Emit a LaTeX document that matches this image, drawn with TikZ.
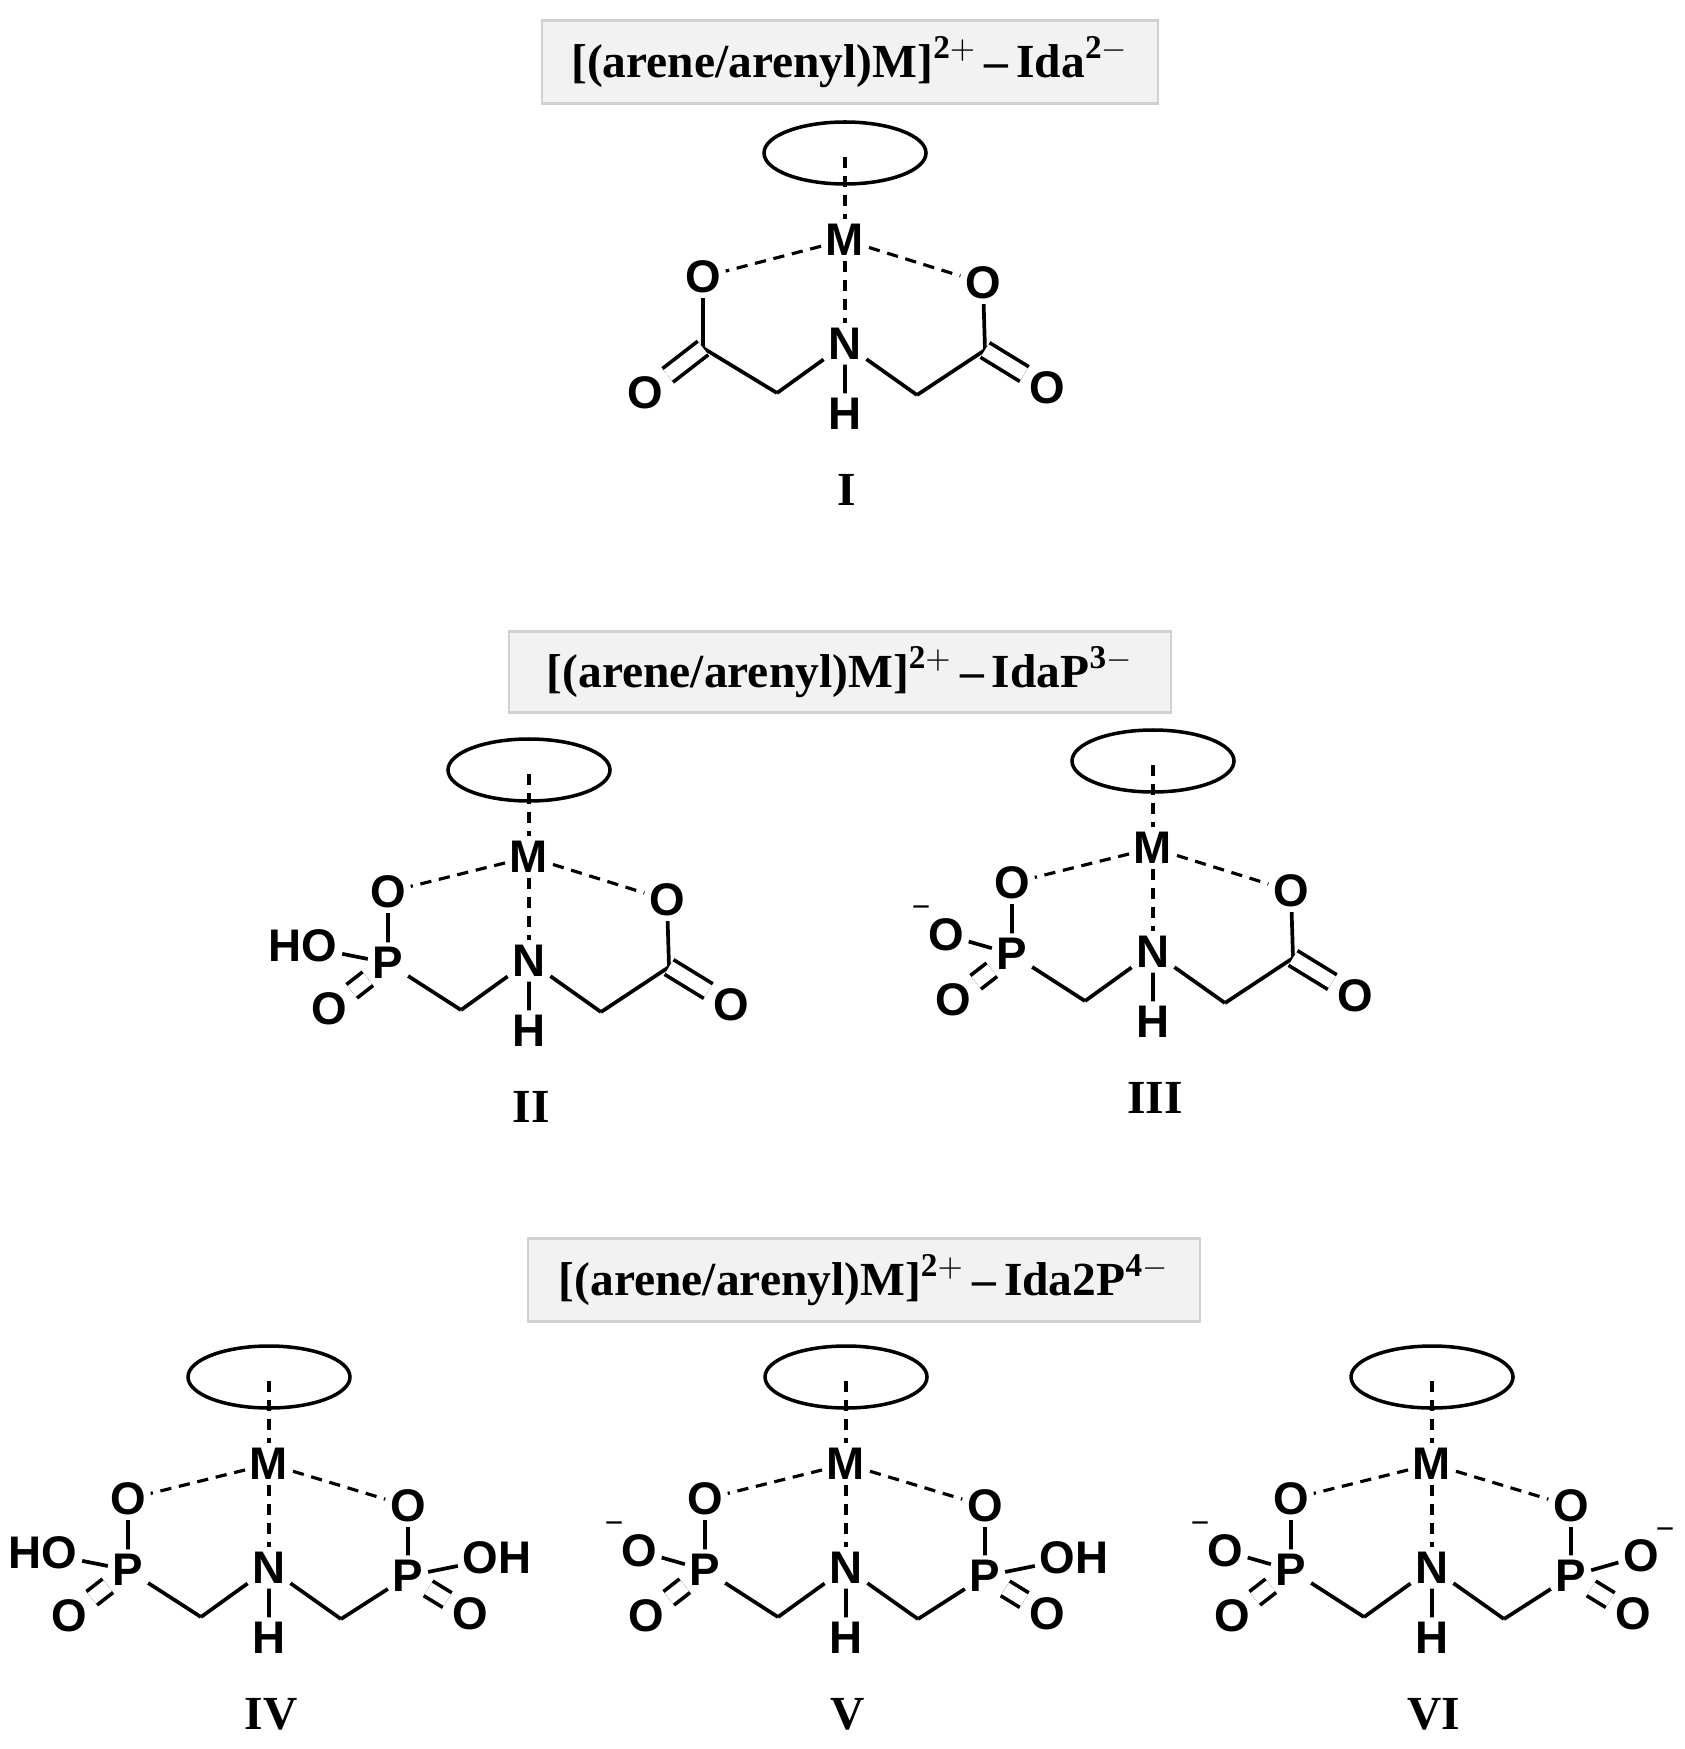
\documentclass[tikz,border=0pt]{standalone}
\usepackage{fontspec}
\setmainfont{Liberation Serif}
\newfontfamily\atomfont{Liberation Sans}
\begin{document}
\begin{tikzpicture}[x=0.01cm,y=-0.01cm,
  atom/.style={font=\atomfont\bfseries\fontsize{13}{14}\selectfont,inner sep=1.2pt},
  bond/.style={line width=1.05pt},
  dbl/.style={line width=1.05pt,double distance=3.8pt},
  coordb/.style={line width=0.9pt,dash pattern=on 3.2pt off 2.2pt},
  ring/.style={line width=1pt},
  title/.style={draw=black!18,fill=black!5,line width=0.6pt,font=\bfseries\fontsize{13.5}{15}\selectfont,inner sep=0pt},
  roman/.style={font=\bfseries\fontsize{13.5}{14}\selectfont}]
\useasboundingbox (0,0) rectangle (1684,1749);
\newcommand\core[4]{%
 \begin{scope}[shift={(#2,#3)}]
 \node[atom] (#1M) at (0,0) {M};
 \coordinate (#1c) at (0,-83);
 \draw[ring] (0,-87) ellipse [x radius=81,y radius=31];
 \draw[coordb] (#1c) -- (#1M);
 \node[atom] (#1N) at (0,104) {N};
 \node[atom] (#1H) at (0,174) {H};
 \coordinate (#1L) at (-68,153);
 \coordinate (#1R) at (72,155);
 \draw[coordb] (#1M) -- (#1N);
 \draw[bond] (#1N) -- (#1H) (#1N) -- (#1L) (#1N) -- (#1R);
 \node[roman] (#1lab) at (2,250) {#4};
 \end{scope}}
\newcommand\leftC[3]{%
 \begin{scope}[shift={(#2,#3)}]
 \node[atom] (#1OL) at (-142,37) {O};
 \coordinate (#1CL) at (-142,108);
 \node[atom] (#1OLd) at (-200,153) {O};
 \draw[coordb] (#1M) -- (#1OL);
 \draw[bond] (#1OL) -- (#1CL) -- (#1L);
 \draw[dbl] (#1CL) -- (#1OLd);
 \end{scope}}
\newcommand\rightC[3]{%
 \begin{scope}[shift={(#2,#3)}]
 \node[atom] (#1OR) at (138,43) {O};
 \coordinate (#1CR) at (140,110);
 \node[atom] (#1ORd) at (202,148) {O};
 \draw[coordb] (#1M) -- (#1OR);
 \draw[bond] (#1OR) -- (#1CR) -- (#1R);
 \draw[dbl] (#1CR) -- (#1ORd);
 \end{scope}}
\newcommand\leftP[4]{% name x y anion?(1=anion)
 \begin{scope}[shift={(#2,#3)}]
 \node[atom] (#1OL) at (-141,35) {O};
 \node[atom] (#1PL) at (-141,106) {P};
 \node[atom] (#1OLd) at (-200,152) {O};
 \ifnum#4=1
  \node[atom] (#1OLx) at (-207,87) {O};
  \node[atom,font=\atomfont\fontsize{9}{10}\selectfont] (#1mL) at (-232,64) {−};
 \else
  \node[atom] (#1OLx) at (-226,89) {HO};
 \fi
 \draw[coordb] (#1M) -- (#1OL);
 \draw[bond] (#1OL) -- (#1PL) (#1PL) -- (#1L) (#1PL) -- (#1OLx);
 \draw[dbl] (#1PL) -- (#1OLd);
 \end{scope}}
\newcommand\rightP[4]{%
 \begin{scope}[shift={(#2,#3)}]
 \node[atom] (#1OR) at (139,42) {O};
 \node[atom] (#1PR) at (139,112) {P};
 \node[atom] (#1ORd) at (201,150) {O};
 \ifnum#4=1
  \node[atom] (#1ORx) at (209,92) {O};
  \node[atom,font=\atomfont\fontsize{9}{10}\selectfont] (#1mR) at (233,70) {−};
 \else
  \node[atom] (#1ORx) at (228,94) {OH};
 \fi
 \draw[coordb] (#1M) -- (#1OR);
 \draw[bond] (#1OR) -- (#1PR) (#1PR) -- (#1R) (#1PR) -- (#1ORx);
 \draw[dbl] (#1PR) -- (#1ORd);
 \end{scope}}
% titles
\node[title,minimum width=6.16cm,minimum height=0.83cm] (t1) at (850,62) {[(arene/arenyl)M]$^{\mathbf{2+}}$\,–\,Ida$^{\mathbf{2-}}$};
\node[title,minimum width=6.61cm,minimum height=0.81cm] (t2) at (840,672) {[(arene/arenyl)M]$^{\mathbf{2+}}$\,–\,IdaP$^{\mathbf{3-}}$};
\node[title,minimum width=6.72cm,minimum height=0.83cm] (t3) at (864,1280) {[(arene/arenyl)M]$^{\mathbf{2+}}$\,–\,Ida2P$^{\mathbf{4-}}$};
% I
\core{a}{845}{240}{I}\leftC{a}{845}{240}\rightC{a}{845}{240}
% II
\core{b}{529}{857}{II}\leftP{b}{529}{857}{0}\rightC{b}{529}{857}
% III
\core{c}{1153}{848}{III}\leftP{c}{1153}{848}{1}\rightC{c}{1153}{848}
% IV
\core{d}{269}{1464}{IV}\leftP{d}{269}{1464}{0}\rightP{d}{269}{1464}{0}
% V
\core{e}{846}{1464}{V}\leftP{e}{846}{1464}{1}\rightP{e}{846}{1464}{0}
% VI
\core{f}{1432}{1464}{VI}\leftP{f}{1432}{1464}{1}\rightP{f}{1432}{1464}{1}
\end{tikzpicture}
\end{document}
